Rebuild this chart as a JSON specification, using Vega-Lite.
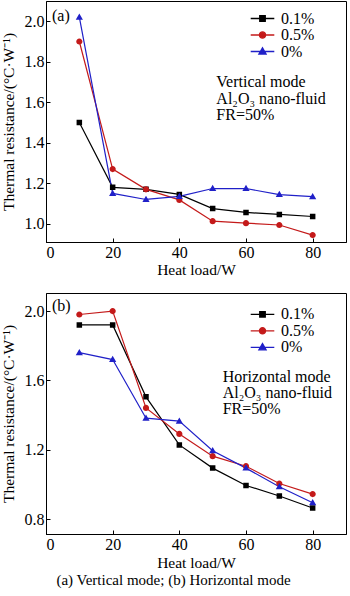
{
  "$schema": "https://vega.github.io/schema/vega-lite/v6.json",
  "padding": {"left": 0, "top": 0, "right": 0, "bottom": 4},
  "background": "white",
  "config": {
    "font": "Liberation Serif",
    "view": {"stroke": "#000000", "strokeWidth": 1},
    "axis": {
      "grid": false,
      "labelFont": "Liberation Serif",
      "labelFontSize": 16,
      "labelColor": "#000000",
      "titleFont": "Liberation Serif",
      "titleFontSize": 15.5,
      "titleFontWeight": "normal",
      "titleColor": "#000000",
      "domainColor": "#000000",
      "tickColor": "#000000",
      "tickSize": -4,
      "labelPadding": 6
    },
    "legend": {
      "labelFont": "Liberation Serif",
      "labelFontSize": 16,
      "labelColor": "#000000"
    },
    "concat": {"spacing": 14}
  },
  "title": {
    "text": "(a) Vertical mode; (b) Horizontal mode",
    "orient": "bottom",
    "anchor": "middle",
    "font": "Liberation Serif",
    "fontSize": 15,
    "fontWeight": "normal",
    "color": "#000000",
    "offset": 2
  },
  "resolve": {"legend": {"color": "independent", "shape": "independent"}},
  "vconcat": [
    {
      "width": 300,
      "height": 241,
      "data": {"values": [
        {"load": 10, "series": "0.1%", "value": 1.50},
        {"load": 20, "series": "0.1%", "value": 1.18},
        {"load": 30, "series": "0.1%", "value": 1.17},
        {"load": 40, "series": "0.1%", "value": 1.145},
        {"load": 50, "series": "0.1%", "value": 1.075},
        {"load": 60, "series": "0.1%", "value": 1.056},
        {"load": 70, "series": "0.1%", "value": 1.046},
        {"load": 80, "series": "0.1%", "value": 1.036},
        {"load": 10, "series": "0.5%", "value": 1.90},
        {"load": 20, "series": "0.5%", "value": 1.27},
        {"load": 30, "series": "0.5%", "value": 1.17},
        {"load": 40, "series": "0.5%", "value": 1.118},
        {"load": 50, "series": "0.5%", "value": 1.013},
        {"load": 60, "series": "0.5%", "value": 1.003},
        {"load": 70, "series": "0.5%", "value": 0.994},
        {"load": 80, "series": "0.5%", "value": 0.944},
        {"load": 10, "series": "0%", "value": 2.02},
        {"load": 20, "series": "0%", "value": 1.15},
        {"load": 30, "series": "0%", "value": 1.12},
        {"load": 40, "series": "0%", "value": 1.135},
        {"load": 50, "series": "0%", "value": 1.174},
        {"load": 60, "series": "0%", "value": 1.174},
        {"load": 70, "series": "0%", "value": 1.144},
        {"load": 80, "series": "0%", "value": 1.134}
      ]},
      "layer": [
        {
          "mark": {"type": "line", "strokeWidth": 1.2},
          "encoding": {
            "x": {"field": "load", "type": "quantitative", "scale": {"domain": [0, 90], "nice": false},
                  "axis": {"values": [0, 20, 40, 60, 80], "title": "Heat load/W", "titlePadding": 2}},
            "y": {"field": "value", "type": "quantitative", "scale": {"domain": [0.91, 2.1], "nice": false, "zero": false},
                  "axis": {"values": [1.0, 1.2, 1.4, 1.6, 1.8, 2.0], "format": ".1f", "title": "Thermal resistance/(°C·W⁻¹)", "titlePadding": 8}},
            "color": {"field": "series", "type": "nominal",
                      "scale": {"domain": ["0.1%", "0.5%", "0%"], "range": ["#000000", "#c41a1a", "#2020c8"]},
                      "legend": {"orient": "none", "legendX": 208.5, "legendY": 9.5, "title": null, "padding": 0,
                                 "symbolSize": 100, "labelOffset": 10.5, "rowPadding": 0.5, "symbolStrokeWidth": 1.3}}
          }
        },
        {
          "mark": {"type": "point", "filled": true, "size": 100, "strokeWidth": 0, "opacity": 1},
          "encoding": {
            "x": {"field": "load", "type": "quantitative"},
            "y": {"field": "value", "type": "quantitative"},
            "color": {"field": "series", "type": "nominal",
                      "scale": {"domain": ["0.1%", "0.5%", "0%"], "range": ["#000000", "#c41a1a", "#2020c8"]},
                      "legend": {"orient": "none", "legendX": 208.5, "legendY": 9.5, "title": null, "padding": 0,
                                 "symbolSize": 100, "labelOffset": 10.5, "rowPadding": 0.5, "symbolStrokeWidth": 1.3}},
            "shape": {"field": "series", "type": "nominal",
                      "scale": {"domain": ["0.1%", "0.5%", "0%"], "range": [
                        "M-2.36,0H2.36M-0.55,-0.55H0.55V0.55H-0.55Z",
                        "M-2.36,0H2.36M0.62,0A0.62,0.62,0,1,1,-0.62,0A0.62,0.62,0,1,1,0.62,0Z",
                        "M-2.36,0H2.36M0,-0.75L0.72,0.5H-0.72Z"]},
                      "legend": {"orient": "none", "legendX": 208.5, "legendY": 9.5, "title": null, "padding": 0,
                                 "symbolSize": 100, "labelOffset": 10.5, "rowPadding": 0.5, "symbolStrokeWidth": 1.3}}
          }
        },
        {
          "data": {"values": [{"label": "Vertical mode\nAl₂O₃ nano-fluid\nFR=50%"}]},
          "mark": {"type": "text", "align": "left", "baseline": "alphabetic", "lineBreak": "\n", "lineHeight": 16.5, "fontSize": 16, "font": "Liberation Serif", "color": "#000000"},
          "encoding": {
            "x": {"datum": 51.1, "type": "quantitative"},
            "y": {"datum": 1.674, "type": "quantitative"},
            "text": {"field": "label", "type": "nominal"}
          }
        },
        {
          "data": {"values": [{"label": "(a)"}]},
          "mark": {"type": "text", "align": "left", "baseline": "middle", "fontSize": 16, "font": "Liberation Serif", "color": "#000000"},
          "encoding": {
            "x": {"datum": 1.8, "type": "quantitative"},
            "y": {"datum": 2.027, "type": "quantitative"},
            "text": {"field": "label", "type": "nominal"}
          }
        }
      ]
    },
    {
      "width": 300,
      "height": 241,
      "data": {"values": [
        {"load": 10, "series": "0.1%", "value": 1.92},
        {"load": 20, "series": "0.1%", "value": 1.92},
        {"load": 30, "series": "0.1%", "value": 1.505},
        {"load": 40, "series": "0.1%", "value": 1.228},
        {"load": 50, "series": "0.1%", "value": 1.094},
        {"load": 60, "series": "0.1%", "value": 0.994},
        {"load": 70, "series": "0.1%", "value": 0.933},
        {"load": 80, "series": "0.1%", "value": 0.864},
        {"load": 10, "series": "0.5%", "value": 1.98},
        {"load": 20, "series": "0.5%", "value": 2.0},
        {"load": 30, "series": "0.5%", "value": 1.441},
        {"load": 40, "series": "0.5%", "value": 1.291},
        {"load": 50, "series": "0.5%", "value": 1.163},
        {"load": 60, "series": "0.5%", "value": 1.105},
        {"load": 70, "series": "0.5%", "value": 1.005},
        {"load": 80, "series": "0.5%", "value": 0.944},
        {"load": 10, "series": "0%", "value": 1.76},
        {"load": 20, "series": "0%", "value": 1.72},
        {"load": 30, "series": "0%", "value": 1.382},
        {"load": 40, "series": "0%", "value": 1.365},
        {"load": 50, "series": "0%", "value": 1.194},
        {"load": 60, "series": "0%", "value": 1.094},
        {"load": 70, "series": "0%", "value": 0.986},
        {"load": 80, "series": "0%", "value": 0.894}
      ]},
      "layer": [
        {
          "mark": {"type": "line", "strokeWidth": 1.2},
          "encoding": {
            "x": {"field": "load", "type": "quantitative", "scale": {"domain": [0, 90], "nice": false},
                  "axis": {"values": [0, 20, 40, 60, 80], "title": "Heat load/W", "titlePadding": 3}},
            "y": {"field": "value", "type": "quantitative", "scale": {"domain": [0.714, 2.104], "nice": false, "zero": false},
                  "axis": {"values": [0.8, 1.2, 1.6, 2.0], "format": ".1f", "title": "Thermal resistance/(°C·W⁻¹)", "titlePadding": 8}},
            "color": {"field": "series", "type": "nominal",
                      "scale": {"domain": ["0.1%", "0.5%", "0%"], "range": ["#000000", "#c41a1a", "#2020c8"]},
                      "legend": {"orient": "none", "legendX": 208.5, "legendY": 13.3, "title": null, "padding": 0,
                                 "symbolSize": 100, "labelOffset": 10.5, "rowPadding": 0.5, "symbolStrokeWidth": 1.3}}
          }
        },
        {
          "mark": {"type": "point", "filled": true, "size": 100, "strokeWidth": 0, "opacity": 1},
          "encoding": {
            "x": {"field": "load", "type": "quantitative"},
            "y": {"field": "value", "type": "quantitative"},
            "color": {"field": "series", "type": "nominal",
                      "scale": {"domain": ["0.1%", "0.5%", "0%"], "range": ["#000000", "#c41a1a", "#2020c8"]},
                      "legend": {"orient": "none", "legendX": 208.5, "legendY": 13.3, "title": null, "padding": 0,
                                 "symbolSize": 100, "labelOffset": 10.5, "rowPadding": 0.5, "symbolStrokeWidth": 1.3}},
            "shape": {"field": "series", "type": "nominal",
                      "scale": {"domain": ["0.1%", "0.5%", "0%"], "range": [
                        "M-2.36,0H2.36M-0.55,-0.55H0.55V0.55H-0.55Z",
                        "M-2.36,0H2.36M0.62,0A0.62,0.62,0,1,1,-0.62,0A0.62,0.62,0,1,1,0.62,0Z",
                        "M-2.36,0H2.36M0,-0.75L0.72,0.5H-0.72Z"]},
                      "legend": {"orient": "none", "legendX": 208.5, "legendY": 13.3, "title": null, "padding": 0,
                                 "symbolSize": 100, "labelOffset": 10.5, "rowPadding": 0.5, "symbolStrokeWidth": 1.3}}
          }
        },
        {
          "data": {"values": [{"label": "Horizontal mode\nAl₂O₃ nano-fluid\nFR=50%"}]},
          "mark": {"type": "text", "align": "left", "baseline": "alphabetic", "lineBreak": "\n", "lineHeight": 16, "fontSize": 16, "font": "Liberation Serif", "color": "#000000"},
          "encoding": {
            "x": {"datum": 53, "type": "quantitative"},
            "y": {"datum": 1.591, "type": "quantitative"},
            "text": {"field": "label", "type": "nominal"}
          }
        },
        {
          "data": {"values": [{"label": "(b)"}]},
          "mark": {"type": "text", "align": "left", "baseline": "middle", "fontSize": 16, "font": "Liberation Serif", "color": "#000000"},
          "encoding": {
            "x": {"datum": 1.8, "type": "quantitative"},
            "y": {"datum": 2.029, "type": "quantitative"},
            "text": {"field": "label", "type": "nominal"}
          }
        }
      ]
    }
  ]
}
